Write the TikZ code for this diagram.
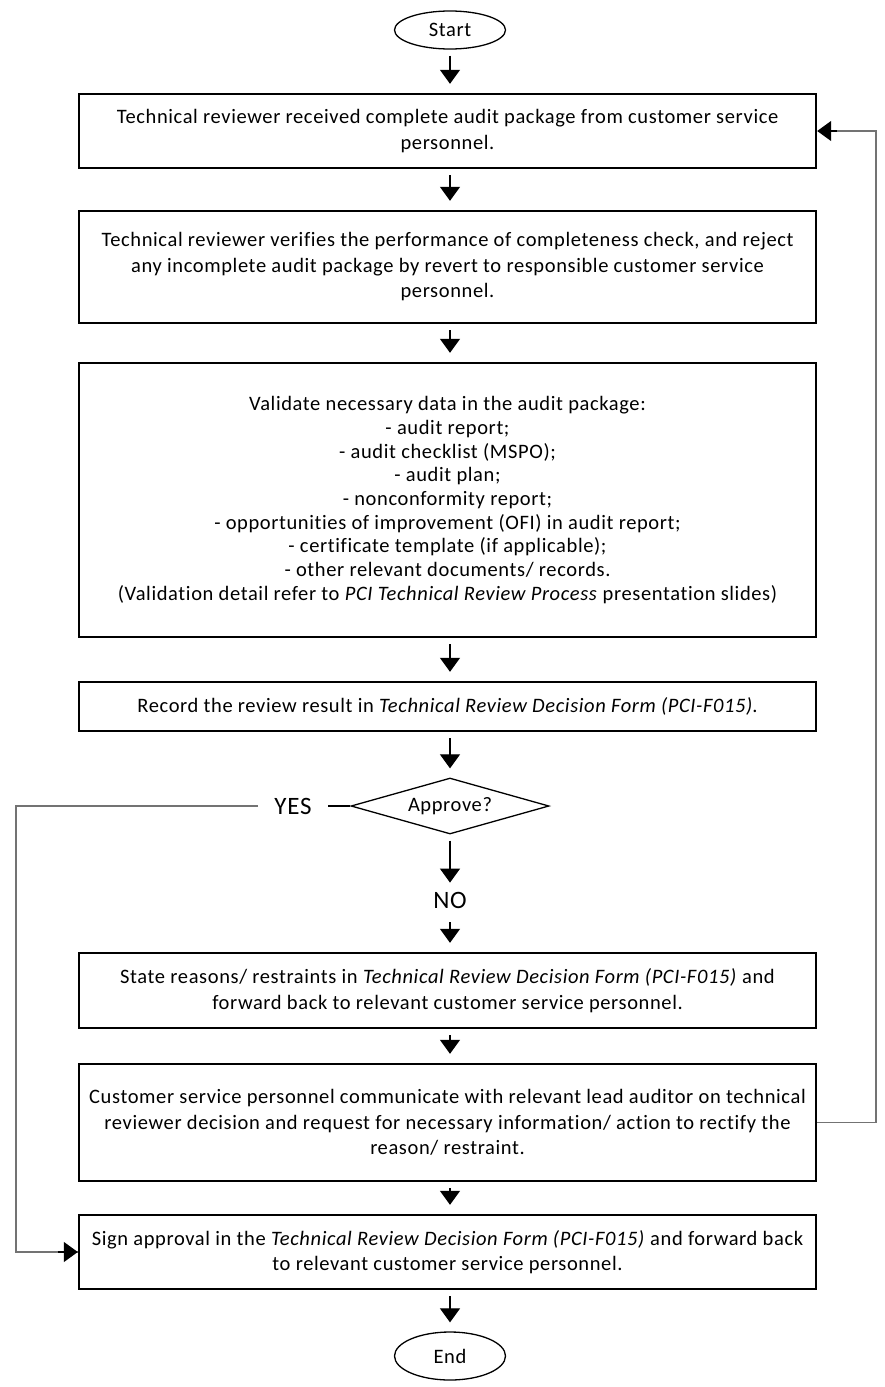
\documentclass[tikz,border=0pt]{standalone}
\usepackage{fontspec}
\setmainfont{Carlito}[Ligatures=NoCommon, LetterSpace=3]
\usetikzlibrary{shapes.geometric,arrows.meta}
\begin{document}
\begin{tikzpicture}[x=1pt,y=-1pt,
  every node/.style={font=\fontsize{20.5}{25.5}\selectfont},
  procbox/.style={draw, line width=2.4pt, minimum width=737pt, align=center, inner sep=0pt},
  term/.style={draw, ellipse, line width=1.3pt, minimum width=111pt, inner sep=0pt},
  decision/.style={draw, diamond, line width=1.3pt, minimum width=198pt, minimum height=56pt, inner sep=0pt, aspect=3.5},
  arr/.style={line width=1.2pt, -{Triangle[width=20pt,length=14pt]}, shorten <=6pt, shorten >=9pt},
  loopline/.style={line width=1.2pt, draw=black!55},
  bigtxt/.style={font=\fontsize{25}{28}\selectfont, inner sep=0pt}
]
\useasboundingbox (0,0) rectangle (885,1387);

\node[term, minimum height=38pt] (start) at (450,30) {Start};

\node[procbox, minimum height=74pt] (b1) at (447.5,131)
 {Technical reviewer received complete audit package from customer service\\personnel.};

\node[procbox, minimum height=112pt] (b2) at (447.5,267)
 {Technical reviewer verifies the performance of completeness check, and reject\\any incomplete audit package by revert to responsible customer service\\personnel.};

\node[procbox, minimum height=274pt, font=\fontsize{20.5}{23.7}\selectfont] (b3) at (447.5,500)
 {Validate necessary data in the audit package:\\
 - audit report;\\
 - audit checklist (MSPO);\\
 - audit plan;\\
 - nonconformity report;\\
 - opportunities of improvement (OFI) in audit report;\\
 - certificate template (if applicable);\\
 - other relevant documents/ records.\\
 (Validation detail refer to \textit{PCI Technical Review Process} presentation slides)};

\node[procbox, minimum height=49pt] (b4) at (447.5,706.5)
 {Record the review result in \textit{Technical Review Decision Form (PCI-F015)}.};

\node[decision] (dec) at (450,806) {Approve?};

\node[bigtxt] (yes) at (293,806) {YES};
\node[bigtxt] (no) at (450,900) {NO};

\node[procbox, minimum height=75pt] (b5) at (447.5,990.5)
 {State reasons/ restraints in \textit{Technical Review Decision Form (PCI-F015)} and\\forward back to relevant customer service personnel.};

\node[procbox, minimum height=117pt] (b6) at (447.5,1122.5)
 {Customer service personnel communicate with relevant lead auditor on technical\\reviewer decision and request for necessary information/ action to rectify the\\reason/ restraint.};

\node[procbox, minimum height=74pt] (b7) at (447.5,1252)
 {Sign approval in the \textit{Technical Review Decision Form (PCI-F015)} and forward back\\to relevant customer service personnel.};

\node[term, minimum height=48pt] (end) at (450,1356) {End};

\coordinate (rtop) at (876,131);
\coordinate (lcor) at (16,806);

\draw[arr] (start) -- (start |- b1.north);
\draw[arr] (b1.south -| start) -- (start |- b2.north);
\draw[arr] (b2.south -| start) -- (start |- b3.north);
\draw[arr] (b3.south -| start) -- (start |- b4.north);
\draw[arr] (b4.south -| dec) -- (dec.north);
\draw[arr] (dec.south) -- (no.north);
\draw[arr, shorten <=14pt] (no.south) -- (no |- b5.north);
\draw[arr] (b5.south -| start) -- (start |- b6.north);
\draw[arr] (b6.south -| start) -- (start |- b7.north);
\draw[arr] (b7.south -| start) -- (end.north);

\draw[line width=1.2pt] (dec.west) -- ([xshift=16pt]yes.east);
\draw[loopline] ([xshift=-16pt]yes.west) -- (lcor) |- (b7.west);
\draw[line width=1.2pt, -{Triangle[width=20pt,length=14pt]}] ([xshift=-20pt]b7.west) -- (b7.west);
\draw[loopline] (b6.east) -| (rtop) -- ([xshift=20pt]b1.east);
\draw[line width=1.2pt, -{Triangle[width=20pt,length=14pt]}] ([xshift=20pt]b1.east) -- (b1.east);
\end{tikzpicture}
\end{document}
